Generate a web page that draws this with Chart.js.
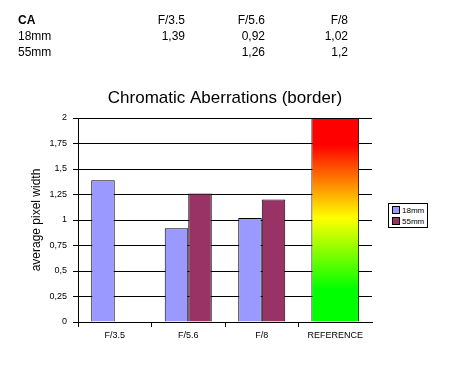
<!DOCTYPE html>
<html>
<head>
<meta charset="utf-8">
<script src="https://cdn.jsdelivr.net/npm/chart.js@4"></script>
<style>
  body { margin: 0; background: #fff; font-family: "Liberation Sans", Arial, sans-serif; }
  #wrap { position: relative; width: 467px; height: 368px; overflow: hidden; }
  #chart { position: absolute; left: 0; top: 0; }
  .cell { position: absolute; font-size: 12px; line-height: 16px; color: #000; white-space: nowrap; }
  .num { width: 70px; text-align: right; }
  #legend { position: absolute; left: 388px; top: 203px; width: 40px; height: 25px; box-sizing: border-box;
            border: 1px solid #000; background: #fff; font-size: 8px; }
  .item { position: absolute; left: 3px; height: 9px; line-height: 9px; white-space: nowrap; }
  .item span { display: inline-block; width: 6px; height: 6px; border: 1px solid #000; vertical-align: top; margin-right: 2px; }
</style>
</head>
<body>
<div id="wrap">
  <canvas id="chart" width="467" height="368"></canvas>
  <div id="table"></div>
  <div id="legend"></div>
</div>
<script>
// chart data
const categories = ['F/3.5', 'F/5.6', 'F/8', 'REFERENCE'];
const ca18mm = [1.39, 0.92, 1.02, null];
const ca55mm = [null, 1.26, 1.2, null];
const referenceBar = [null, null, null, 2];
const seriesNames = ['18mm', '55mm'];
const seriesColors = ['#9999FF', '#993366'];

function comma(v) {
    return String(v).replace('.', ',');
}

// Table above the chart
var table = document.getElementById('table');
var colRight = [185, 265, 348];
var rowTop = [12, 28, 44];
function addCell(text, left, top, cls, bold) {
    var d = document.createElement('div');
    d.className = 'cell ' + (cls || '');
    d.style.left = left + 'px';
    d.style.top = top + 'px';
    if (bold) d.style.fontWeight = 'bold';
    d.textContent = text;
    table.appendChild(d);
}
addCell('CA', 18, rowTop[0], '', true);
addCell(seriesNames[0], 18, rowTop[1]);
addCell(seriesNames[1], 18, rowTop[2]);
[ca18mm, ca55mm].forEach(function(series, r) {
    for (var i = 0; i < 3; i++) {
        if (r === 0) addCell(categories[i], colRight[i] - 70, rowTop[0], 'num');
        if (series[i] !== null) addCell(comma(series[i]), colRight[i] - 70, rowTop[r + 1], 'num');
    }
});

// Legend
var legend = document.getElementById('legend');
seriesNames.forEach(function(name, i) {
    var it = document.createElement('div');
    it.className = 'item';
    it.style.top = (2 + i * 11) + 'px';
    it.innerHTML = '<span style="background:' + seriesColors[i] + '"></span>' + name;
    legend.appendChild(it);
});

Chart.defaults.font.family = '"Liberation Sans", Arial, sans-serif';
Chart.defaults.color = '#000';

function refGradient(context) {
    var chart = context.chart;
    var area = chart.chartArea;
    if (!area) return '#00FF00';
    var g = chart.ctx.createLinearGradient(0, area.bottom, 0, area.top);
    g.addColorStop(0, '#00FF00');
    g.addColorStop(0.16, '#00FF00');
    g.addColorStop(0.51, '#FFFF00');
    g.addColorStop(0.87, '#FF0000');
    g.addColorStop(1, '#FF0000');
    return g;
}

var ctx = document.getElementById('chart').getContext('2d');
var caChart = new Chart(ctx, {
    type: 'bar',
    data: {
        labels: categories,
        datasets: [{
            label: seriesNames[0],
            data: ca18mm,
            backgroundColor: seriesColors[0],
            borderColor: '#000',
            borderWidth: 1,
            categoryPercentage: 0.64,
            barPercentage: 1
        }, {
            label: seriesNames[1],
            data: ca55mm,
            backgroundColor: seriesColors[1],
            borderColor: '#000',
            borderWidth: 1,
            categoryPercentage: 0.64,
            barPercentage: 1
        }, {
            label: 'REFERENCE',
            data: referenceBar,
            backgroundColor: refGradient,
            borderColor: '#000',
            borderWidth: 1,
            grouped: false,
            categoryPercentage: 0.65,
            barPercentage: 1
        }]
    },
    options: {
        responsive: false,
        animation: false,
        layout: { padding: { left: 0, right: 95, top: 0, bottom: 26 } },
        plugins: {
            legend: { display: false },
            tooltip: { enabled: false },
            title: {
                display: true,
                text: 'Chromatic Aberrations (border)',
                fullSize: false,
                font: { size: 17, weight: 'normal' },
                padding: { top: 88, bottom: 9.6 }
            }
        },
        scales: {
            x: {
                grid: {
                    drawOnChartArea: false,
                    color: '#000',
                    tickLength: 5,
                    // no tick mark at the right end of the axis
                    tickColor: function(c) { return c.index === categories.length || c.tick === undefined ? 'rgba(0,0,0,0)' : '#000'; }
                },
                border: { color: '#000' },
                ticks: { font: { size: 9 }, padding: 3, maxRotation: 0 },
                afterFit: function(scale) { scale.height = 20; }
            },
            y: {
                min: 0,
                max: 2,
                ticks: {
                    stepSize: 0.25,
                    font: { size: 9 },
                    padding: 6,
                    callback: function(v) { return comma(v); }
                },
                grid: { color: '#000', tickLength: 5 },
                border: { color: '#000' },
                title: {
                    display: true,
                    text: 'average pixel width',
                    font: { size: 12 },
                    padding: { top: 29, bottom: 0 }
                },
                afterFit: function(scale) { scale.width = 78; }
            }
        }
    }
});
</script>
</body>
</html>
